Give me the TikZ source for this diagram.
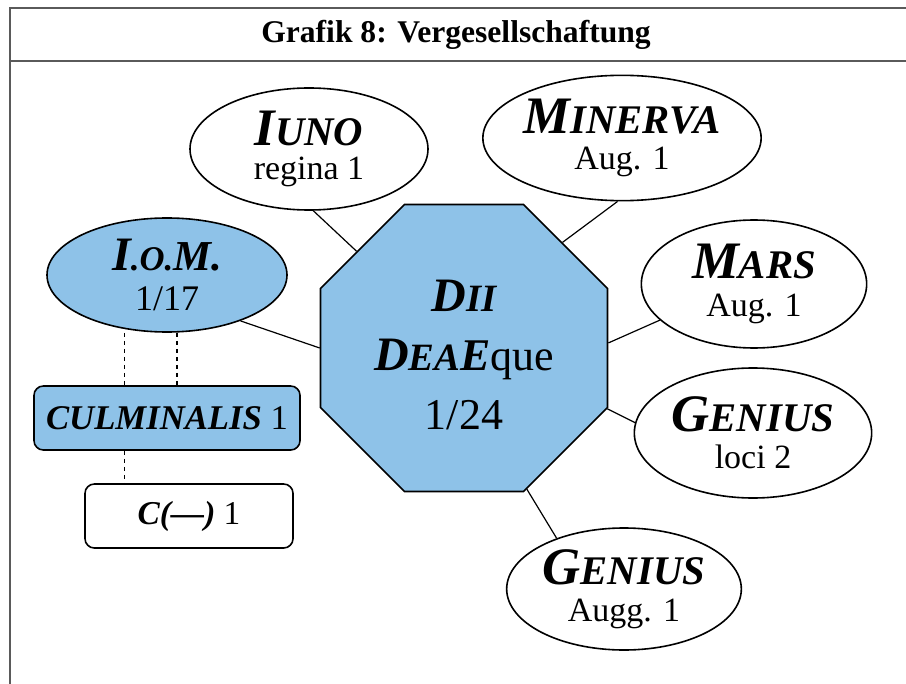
\documentclass[tikz,border=0pt]{standalone}
\usepackage{fontspec}
\setmainfont{Liberation Serif}
\usepackage{tikz}
\usetikzlibrary{shapes}
\definecolor{himmel}{RGB}{142,194,232}
\definecolor{rahmen}{RGB}{90,90,90}
\tikzstyle{gott} = [ellipse, draw=black, line width=1.2pt, inner sep=0pt, align=center]
\tikzstyle{kasten} = [rectangle, rounded corners=7pt, draw=black, line width=1.2pt, inner sep=0pt, align=center]
\tikzstyle{line} = [draw, line width=0.9pt]
\tikzstyle{strich} = [draw, line width=0.9pt, dashed]
\newcommand{\Kap}[4]{{\bfseries\itshape\fontsize{#1}{#1}\selectfont #3\fontsize{#2}{#2}\selectfont #4}}

\begin{document}
\begin{tikzpicture}[x=0.75pt, y=-0.75pt]
        \useasboundingbox (0,0) rectangle (906,684);
        
        \draw[rahmen, line width=1.8pt] (906,8) -- (10,8) -- (10,684);
        \draw[rahmen, line width=1.8pt] (10,61) -- (906,61);
        \node (T) at (456,35) {\fontsize{23.7}{24}\selectfont\bfseries Grafik 8: Vergesellschaftung};
        
        \node (0) at (464,348) [regular polygon, regular polygon sides=8, minimum size=233pt, inner sep=0pt, fill=himmel, draw=black, line width=1.2pt, align=center, font=\fontsize{33}{44}\selectfont] {\rule{0pt}{34pt}\Kap{36}{29}{D}{II} \\ \Kap{36}{29}{D}{EA}\Kap{34}{34}{E}{}que \\ 1/24};
        
        \node (1) at (309,149) [gott, minimum width=178.5pt, minimum height=91.5pt, font=\fontsize{25.5}{25}\selectfont] {\Kap{39.5}{30.5}{I}{UNO} \\ regina 1};
        \node (2) at (622,138) [gott, minimum width=180pt, minimum height=94pt, font=\fontsize{25.5}{27}\selectfont] {\Kap{39.5}{30.5}{M}{INERVA} \\ Aug. 1};
        \node (3) at (754,284) [gott, minimum width=169pt, minimum height=96pt, font=\fontsize{25.5}{28}\selectfont] {\Kap{39.5}{30.5}{M}{ARS} \\ Aug. 1};
        \node (4) at (753,433) [gott, minimum width=178pt, minimum height=97.5pt, font=\fontsize{25.5}{28}\selectfont] {\Kap{39.5}{30.5}{G}{ENIUS} \\ loci 2};
        \node (5) at (624,589) [gott, minimum width=176pt, minimum height=91.5pt, font=\fontsize{25.5}{28}\selectfont] {\Kap{39.5}{30.5}{G}{ENIUS} \\ Augg. 1};
        
        \node (6) at (167,275) [gott, fill=himmel, minimum width=180pt, minimum height=85.5pt, font=\fontsize{27}{30}\selectfont] {\Kap{36}{26}{I}{.O.}\Kap{32}{32}{M.}{} \\ 1/17};
        \node (7) at (167,418) [kasten, fill=himmel, minimum width=199.5pt, minimum height=48pt, font=\fontsize{26}{26}\selectfont] {\Kap{26}{26}{CULMINALIS}{} 1};
        \node (8) at (189,516) [kasten, minimum width=156pt, minimum height=48pt, font=\fontsize{25}{25}\selectfont] {\Kap{25}{25}{C(---)}{} 1};
        
        \draw[line] (1.-86) -- (0.138);
        \draw[line] (2.-94) -- (0.47);
        \draw[line] (6.-32) -- (0.180);
        \draw[line] (3.-159) -- (0.2);
        \draw[line] (4.175) -- (0.-23);
        \draw[line] (5.143) -- (0.-66);
        
        \draw[strich] ([xshift=-32pt]6.south) -- ([xshift=-32pt]7.north);
        \draw[strich] ([xshift=7.5pt]6.south) -- ([xshift=7.5pt]7.north);
        \draw[strich] ([xshift=-32pt]7.south) -- ([xshift=-32pt]7.south |- 8.north);
        
    \end{tikzpicture}
\end{document}
